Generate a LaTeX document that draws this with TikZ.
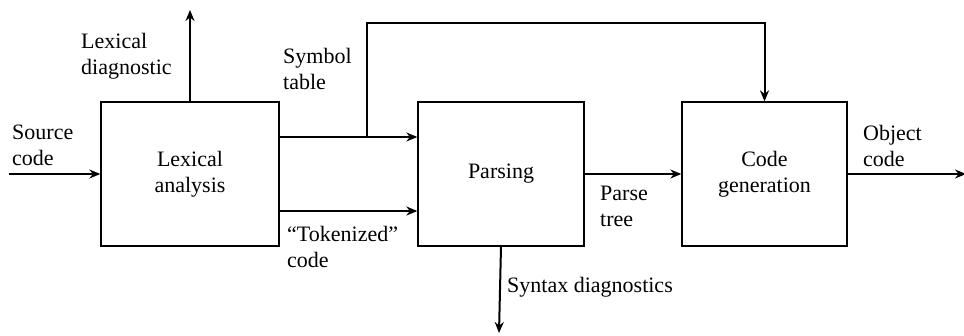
\documentclass[tikz,border=0pt]{standalone}
\usepackage{fontspec}
\setmainfont{Liberation Serif}
\usetikzlibrary{arrows.meta}
\begin{document}
\begin{tikzpicture}[x=1pt,y=-1pt,
  blk/.style={draw,line width=1.3pt,inner sep=0pt,align=center,font=\fontsize{22}{25.5}\selectfont},
  lbl/.style={inner sep=0pt,align=left,anchor=base west,font=\fontsize{22}{25.5}\selectfont},
  flow/.style={line width=2pt,-{Stealth[length=11pt,width=9pt]}}]
\useasboundingbox (0,0) rectangle (964,335);
\node[blk,minimum width=178pt,minimum height=144pt] (lex) at (190,174) {Lexical\\analysis};
\node[blk,minimum width=166pt,minimum height=144pt] (parse) at (501,174) {Parsing};
\node[blk,minimum width=165pt,minimum height=144pt] (cg) at (764.5,174) {Code\\generation};
\coordinate (src) at (9,174);
\coordinate (diag) at (190,10);
\coordinate (br) at (367,137);
\coordinate (top) at (367,23);
\coordinate (obj) at (966,174);
\coordinate (syn) at (499,333);
\draw[flow] (src) -- (lex.west);
\draw[flow] (lex.north) -- (diag);
\draw[flow] ([yshift=37pt]lex.east) -- ([yshift=37pt]parse.west);
\draw[flow] (br) -- (top) -| (cg.north);
\draw[flow] ([yshift=-37pt]lex.east) -- ([yshift=-37pt]parse.west);
\draw[flow] (parse.east) -- (cg.west);
\draw[flow] (cg.east) -- (obj);
\draw[flow] (parse.south) -- (syn);
\node[lbl] (t1) at (12,165) {Source\\code};
\node[lbl] (t2) at (81,74) {Lexical\\diagnostic};
\node[lbl] (t3) at (283,89) {Symbol\\table};
\node[lbl] (t4) at (287,267) {“Tokenized”\\code};
\node[lbl] (t5) at (600,226) {Parse\\tree};
\node[lbl] (t6) at (863,166) {Object\\code};
\node[lbl] (t7) at (507,292) {Syntax diagnostics};
\end{tikzpicture}
\end{document}
